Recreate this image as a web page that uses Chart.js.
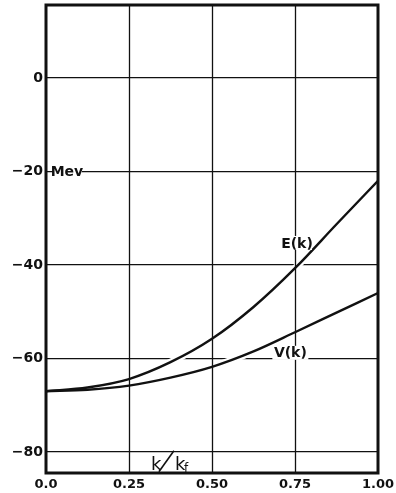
<!DOCTYPE html>
<html>
<head>
<meta charset="utf-8">
<script src="https://cdn.jsdelivr.net/npm/chart.js@4/dist/chart.umd.min.js"></script>
<style>
  html, body { margin: 0; padding: 0; background: #fff; }
  #wrap { width: 396px; height: 493px; }
</style>
</head>
<body>
<div id="wrap"><canvas id="chart" width="396" height="493"></canvas></div>
<script>
// Momentum in units of the Fermi momentum
const kValues = [0, 0.125, 0.25, 0.375, 0.5, 0.625, 0.75, 0.875, 1.0];
// Total single-particle energy E(k), Mev
const energyE = [-67, -66.2, -64.4, -60.8, -55.8, -49.0, -40.7, -31.3, -22.0];
// Potential energy V(k), Mev
const potentialV = [-67, -66.7, -65.8, -64.1, -61.8, -58.5, -54.4, -50.2, -46.0];

const xTickValues = [0, 0.25, 0.5, 0.75, 1.0];
const xTickLabels = ['0.0', '0.25', '0.50', '0.75', '1.00'];
const yTickValues = [0, -20, -40, -60, -80];
const yTickLabels = ['0', '\u221220', '\u221240', '\u221260', '\u221280'];

const INK = '#111';
const LABEL_FONT = 'bold 14px "DejaVu Sans", sans-serif';

const toPoints = (ys) => kValues.map((k, i) => ({ x: k, y: ys[i] }));

// Gaps in horizontal rules where a curve crosses them: a wide white stroke under each curve
const curve = (ys, color, width) => ({
  data: toPoints(ys),
  borderColor: color,
  borderWidth: width,
  pointRadius: 0,
  fill: false,
  cubicInterpolationMode: 'monotone'
});

// Vertical rules, curve labels and frame
const overlay = {
  id: 'overlay',
  beforeDatasetsDraw(chart) {
    const { ctx, scales: { x, y } } = chart;
    ctx.save();
    // unit label on the -20 rule
    const mx = x.getPixelForValue(0.063), my = y.getPixelForValue(-20);
    ctx.fillStyle = '#fff';
    ctx.fillRect(mx - 14, my - 6, 29, 12);
    ctx.fillStyle = INK;
    ctx.font = LABEL_FONT;
    ctx.textAlign = 'center';
    ctx.textBaseline = 'middle';
    ctx.fillText('Mev', mx, my + 1);
    ctx.restore();
  },
  afterDatasetsDraw(chart) {
    const { ctx, chartArea: a, scales: { x, y } } = chart;
    ctx.save();
    ctx.strokeStyle = INK;
    ctx.lineWidth = 1.3;
    xTickValues.slice(1, -1).forEach(v => {
      const px = Math.round(x.getPixelForValue(v)) + 0.5;
      ctx.beginPath();
      ctx.moveTo(px, a.top);
      ctx.lineTo(px, a.bottom);
      ctx.stroke();
    });

    ctx.font = LABEL_FONT;
    ctx.textAlign = 'center';
    ctx.textBaseline = 'middle';
    const tag = (text, k, v, halfW, halfH) => {
      const px = x.getPixelForValue(k), py = y.getPixelForValue(v);
      ctx.fillStyle = '#fff';
      ctx.fillRect(px - halfW, py - halfH, halfW * 2, halfH * 2);
      ctx.fillStyle = INK;
      ctx.fillText(text, px, py + 1);
    };
    tag('E(k)', 0.756, -35.3, 15, 7);
    tag('V(k)', 0.736, -58.8, 18, 7);

    // abscissa label k/k_f
    const bx = x.getPixelForValue(0.316), by = y.getPixelForValue(-83.8);
    ctx.textAlign = 'left';
    ctx.textBaseline = 'alphabetic';
    ctx.font = '18px "DejaVu Sans", sans-serif';
    ctx.fillText('k', bx, by);
    ctx.fillText('k', bx + 24, by);
    ctx.font = '12px "DejaVu Sans", sans-serif';
    ctx.fillText('f', bx + 33, by + 2);
    ctx.lineWidth = 1.6;
    ctx.beginPath();
    ctx.moveTo(bx + 8, by + 2);
    ctx.lineTo(bx + 23, by - 19);
    ctx.stroke();

    // heavy frame
    ctx.lineWidth = 3;
    ctx.strokeStyle = INK;
    ctx.strokeRect(a.left, a.top, a.right - a.left, a.bottom - a.top);
    ctx.restore();
  }
};

new Chart(document.getElementById('chart'), {
  type: 'line',
  data: {
    datasets: [
      curve(energyE, INK, 2.4),
      curve(potentialV, INK, 2.4),
      curve(energyE, '#fff', 7),
      curve(potentialV, '#fff', 7)
    ]
  },
  options: {
    responsive: false,
    animation: false,
    events: [],
    layout: { padding: { top: 5, right: 18, left: 0, bottom: 0 } },
    plugins: { legend: { display: false }, tooltip: { enabled: false } },
    scales: {
      x: {
        type: 'linear',
        min: 0,
        max: 1,
        afterBuildTicks: (s) => { s.ticks = xTickValues.map(v => ({ value: v })); },
        afterFit: (s) => { s.height = 20; s.paddingLeft = 0; s.paddingRight = 0; },
        grid: { display: false, drawTicks: false },
        border: { display: false },
        ticks: {
          padding: 4,
          maxRotation: 0,
          autoSkip: false,
          color: INK,
          font: { family: '"DejaVu Sans", sans-serif', size: 13, weight: 'bold' },
          callback: (v) => xTickLabels[xTickValues.indexOf(v)]
        }
      },
      y: {
        type: 'linear',
        min: -84.5,
        max: 15.6,
        afterBuildTicks: (s) => { s.ticks = yTickValues.map(v => ({ value: v })); },
        afterFit: (s) => { s.width = 46; s.paddingTop = 0; s.paddingBottom = 0; },
        grid: { color: INK, lineWidth: 1.3, drawTicks: false },
        border: { display: false },
        ticks: {
          padding: 3,
          color: INK,
          font: { family: '"DejaVu Sans", sans-serif', size: 14, weight: 'bold' },
          callback: (v) => yTickLabels[yTickValues.indexOf(v)]
        }
      }
    }
  },
  plugins: [overlay]
});
</script>
</body>
</html>
